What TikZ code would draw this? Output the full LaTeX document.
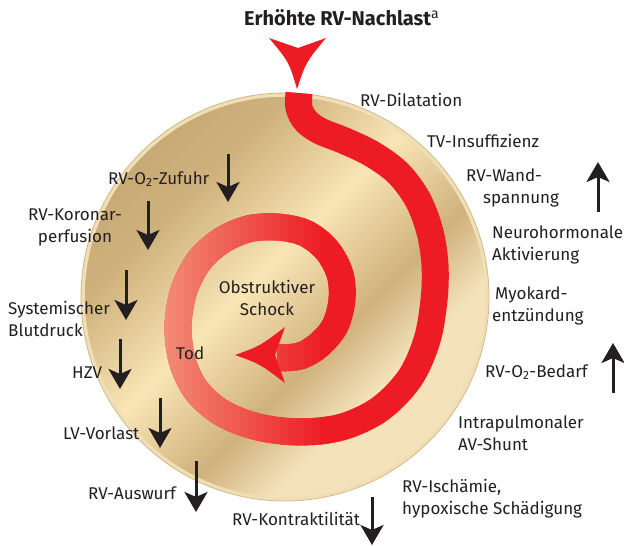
\documentclass[tikz,border=0pt]{standalone}
\usepackage{fontspec}
\setmainfont{Fira Sans}
\usetikzlibrary{arrows.meta}

\definecolor{ink}{RGB}{35,31,32}
\definecolor{bandred}{RGB}{237,28,36}
\definecolor{salmon}{RGB}{242,140,118}
\definecolor{golddark}{RGB}{193,163,112}
\definecolor{goldmid}{RGB}{207,177,124}
\definecolor{goldlight}{RGB}{249,229,182}
\definecolor{goldpale}{RGB}{243,226,186}
\definecolor{rimcream}{RGB}{240,222,182}
\definecolor{rimedge}{RGB}{212,186,136}

% metallic disc: dark top left, light streak, dark again, light rim
\pgfdeclarehorizontalshading{goldshade}{100bp}{%
  color(0bp)=(golddark); color(19bp)=(golddark); color(33bp)=(goldmid);
  color(46bp)=(goldlight); color(58bp)=(goldmid); color(66bp)=(goldpale);
  color(100bp)=(goldpale)}

\tikzset{
  lbl/.style={anchor=west, inner sep=0pt, align=left, text=ink,
    font=\fontsize{17}{22}\selectfont},
  trend/.style={line width=3pt, draw=ink,
    -{Stealth[length=20pt, width=23pt, inset=5pt]}},
  band/.style={line width=27pt, line join=round}
}

% centre line of the red spiral
\newcommand{\spiralline}{plot[smooth, tension=0.55] coordinates {
  (299,93) (299,108) (306,121) (320,131) (345,141) (372,154) (398,173)
  (418,200) (430,232) (435,265) (434,300) (427,340) (410,378) (380,409)
  (342,427) (300,432) (258,427) (222,413) (196,390) (182,360) (178,325)
  (184,290) (199,261) (221,241) (248,229) (277,227) (305,233) (327,250)
  (340,274) (342,300) (335,326) (319,345) (300,356) (277,358)}}

\begin{document}
\begin{tikzpicture}[x=1pt, y=-1pt]
\useasboundingbox[fill=white] (0,0) rectangle (624,546);

% disc
\coordinate (centre) at (285,297);
\begin{scope}
  \clip (centre) circle[radius=204];
  \begin{scope}[transform canvas={rotate around={-45:(centre)}}]
    \shade[shading=goldshade] (81,93) rectangle (489,501);
  \end{scope}
\end{scope}
\draw[rimcream, line width=3.5pt] (centre) circle[radius=202];
\draw[rimedge, line width=0.8pt] (centre) circle[radius=204];

% spiral, fading to salmon on the left
\draw[band, draw=bandred] \spiralline;
\foreach \i in {0,...,20}{
  \pgfmathsetmacro{\mix}{100-5*\i}
  \begin{scope}
    \clip (160+8*\i,200) rectangle (170+8*\i,460);
    \draw[band, draw=salmon!\mix!bandred] \spiralline;
  \end{scope}
}
\fill[bandred] (235,355) .. controls (260,346) .. (285,327) -- (275,355)
  -- (285,383) .. controls (260,364) .. (235,355) -- cycle;

% entry arrow
\node[anchor=west, inner sep=0pt, text=ink,
  font=\bfseries\fontsize{20}{22}\selectfont] (nachlast) at (244,18)
  {Erhöhte RV-Nachlast\textsuperscript{\mdseries a}};
\fill[bandred] (297,89) .. controls (289,62) .. (269,38) -- (298,48)
  -- (326,38) .. controls (306,62) .. (297,89) -- cycle;

% centre
\node[lbl, anchor=center, align=center] (schock) at (267,298) {Obstruktiver\\Schock};
\node[lbl] (tod) at (176,353) {Tod};

% right side
\node[lbl] (dilatation) at (360,100) {RV-Dilatation};
\node[lbl] (tvinsuff) at (427,141) {TV-Insuffizienz};
\node[lbl] (wand) at (466,188) {RV-Wand-\\\hspace*{17pt}spannung};
\node[lbl] (neuro) at (492,245) {Neurohormonale\\Aktivierung};
\node[lbl] (myokard) at (492,306) {\hspace*{3pt}Myokard-\\entzündung};
\node[lbl] (bedarf) at (485,372) {RV-O\textsubscript{2}-Bedarf};
\node[lbl] (shunt) at (458,433) {Intrapulmonaler\\AV-Shunt};
\node[lbl] (ischaemie) at (402,499) {RV-Ischämie,\\hypoxische Schädigung};

% left side
\node[lbl] (zufuhr) at (108,179) {RV-O\textsubscript{2}-Zufuhr};
\node[lbl, anchor=center, align=center] (koronar) at (75,227) {RV-Koronar-\\perfusion};
\node[lbl] (blutdruck) at (8,319) {Systemischer\\Blutdruck};
\node[lbl] (hzv) at (72,373) {HZV};
\node[lbl] (vorlast) at (63,433) {LV-Vorlast};
\node[lbl] (auswurf) at (88,493) {RV-Auswurf};
\node[lbl] (kontrakt) at (232,519) {RV-Kontraktilität};

% trend arrows
\coordinate (zufuhr arrow) at (228,154);
\coordinate (koronar arrow) at (148,201);
\coordinate (blutdruck arrow) at (126,270);
\coordinate (hzv arrow) at (120,339);
\coordinate (vorlast arrow) at (160,398);
\coordinate (auswurf arrow) at (196,461);
\coordinate (kontrakt arrow) at (372,497);
\coordinate (wand arrow) at (598,212);
\coordinate (bedarf arrow) at (613,393);

\draw[trend] (zufuhr arrow) -- ++(0,48);
\draw[trend] (koronar arrow) -- ++(0,49);
\draw[trend] (blutdruck arrow) -- ++(0,50);
\draw[trend] (hzv arrow) -- ++(0,50);
\draw[trend] (vorlast arrow) -- ++(0,50);
\draw[trend] (auswurf arrow) -- ++(0,51);
\draw[trend] (kontrakt arrow) -- ++(0,48);
\draw[trend] (wand arrow) -- ++(0,-50);
\draw[trend] (bedarf arrow) -- ++(0,-50);
\end{tikzpicture}
\end{document}
